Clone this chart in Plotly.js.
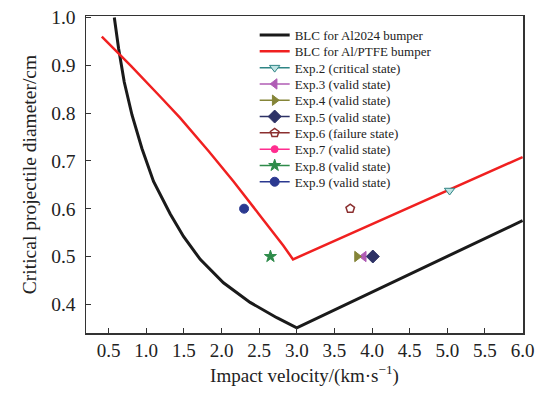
<!DOCTYPE html>
<html><head><meta charset="utf-8">
<script src="https://cdn.plot.ly/plotly-3.0.1.min.js"></script>
<style>html,body{margin:0;padding:0;background:#fff}#chart{width:543px;height:394px}</style>
</head><body><div id="chart"></div>
<script>
// BLC for Al2024 bumper
const blcAlX = [0.576, 0.633, 0.708, 0.811, 0.943, 1.097, 1.319, 1.495, 1.717, 2.026, 2.38, 2.735, 3.0, 6.0];
const blcAlY = [1.0, 0.935, 0.865, 0.796, 0.726, 0.657, 0.589, 0.542, 0.494, 0.445, 0.404, 0.372, 0.351, 0.575];
// BLC for Al/PTFE bumper
const blcPtX = [0.41, 0.8, 1.2, 1.45, 1.83, 2.16, 2.5, 2.82, 2.95, 6.0];
const blcPtY = [0.96, 0.898, 0.832, 0.79, 0.72, 0.657, 0.588, 0.523, 0.494, 0.708];
// Experiments (Exp.7 is hidden under Exp.5 in the figure)
const expNames = ['Exp.2 (critical state)','Exp.3 (valid state)','Exp.4 (valid state)','Exp.5 (valid state)','Exp.6 (failure state)','Exp.7 (valid state)','Exp.8 (valid state)','Exp.9 (valid state)'];
const expX = [[5.03],[3.89],[3.80],[4.01],[3.71],[4.01],[2.65],[2.30]];
const expY = [[0.638],[0.5],[0.5],[0.5],[0.6],[0.5],[0.5],[0.6]];

const expStyle = [
  {sym:'triangle-down', col:'#2f8585', fill:'#bfe3e3', size:9},
  {sym:'triangle-left', col:'#b05cb5', fill:'#b05cb5', size:9},
  {sym:'triangle-right', col:'#858538', fill:'#858538', size:9},
  {sym:'diamond', col:'#2d3266', fill:'#2d3266', size:10},
  {sym:'pentagon-open', col:'#8b2f2f', fill:'#8b2f2f', size:9},
  {sym:'circle', col:'#ff2d8f', fill:'#ff2d8f', size:7},
  {sym:'star', col:'#2e8b4a', fill:'#2e8b4a', size:9},
  {sym:'circle', col:'#2b3990', fill:'#2b3990', size:9}
];
// draw order: Exp.7 first so it sits beneath Exp.5
const drawOrder = [5, 0, 1, 2, 3, 4, 6, 7];

const traces = [
  {x: blcAlX, y: blcAlY, mode:'lines', name:'BLC for Al2024 bumper', legendrank:1, line:{color:'#1a1a1a', width:3}},
  {x: blcPtX, y: blcPtY, mode:'lines', name:'BLC for Al/PTFE bumper', legendrank:2, line:{color:'#f02020', width:2.5}}
];
drawOrder.forEach(i=>{
  const s = expStyle[i];
  traces.push({x: expX[i], y: expY[i], mode:'lines+markers', name:expNames[i], legendrank: 10 + i,
    line:{color:s.col, width:1.5},
    marker:{symbol:s.sym, size:s.size, color:s.fill, line:{color:s.col, width: s.sym.endsWith('open')?1.5:1}}});
});

const fam = 'Liberation Serif';
const layout = {
  width:543, height:394,
  margin:{l:86, r:20, t:16, b:61},
  paper_bgcolor:'#fff', plot_bgcolor:'#fff',
  font: {family:fam, size:18, color:'#222'},
  showlegend:true,
  legend:{x:0.386, y:0.995, xanchor:'left', yanchor:'top', bgcolor:'rgba(0,0,0,0)', font:{family:fam, size:13, color:'#222'}, itemwidth:30, traceorder:'normal'},
  xaxis:{range:[0.2, 6.005], tick0:0.5, dtick:0.5, tickformat:'.1f', ticks:'inside', ticklen:5, tickcolor:'#333',
    showline:true, linecolor:'#333', linewidth:1.5, mirror:true, showgrid:false, zeroline:false,
    tickfont:{family:fam, size:19, color:'#222'},
    title:{text:'Impact velocity/(km·s<sup>−1</sup>)', font:{family:fam, size:19, color:'#222'}, standoff:8}},
  yaxis:{range:[0.34, 1.003], tick0:0, dtick:0.1, tickformat:'.1f', ticks:'inside', ticklen:5, tickcolor:'#333',
    showline:true, linecolor:'#333', linewidth:1.5, mirror:true, showgrid:false, zeroline:false,
    ticklabelstandoff:5,
    tickfont:{family:fam, size:19.5, color:'#222'},
    title:{text:'Critical projectile diameter/cm', font:{family:fam, size:19.5, color:'#222'}, standoff:9}}
};
Plotly.newPlot('chart', traces, layout, {displayModeBar:false, staticPlot:true}).then(gd => {
  // tighten legend row spacing to match the reference (~16.3 px per row)
  const items = gd.querySelectorAll('.legend .traces');
  let y0 = null;
  items.forEach((g, i) => {
    const m = /translate\(\s*([-\d.]+)[ ,]+([-\d.]+)\s*\)/.exec(g.getAttribute('transform') || '');
    if (!m) return;
    if (y0 === null) y0 = parseFloat(m[2]) + 2.5;
    g.setAttribute('transform', 'translate(' + m[1] + ',' + (y0 + i * 16.3) + ')');
  });
});
</script></body></html>
